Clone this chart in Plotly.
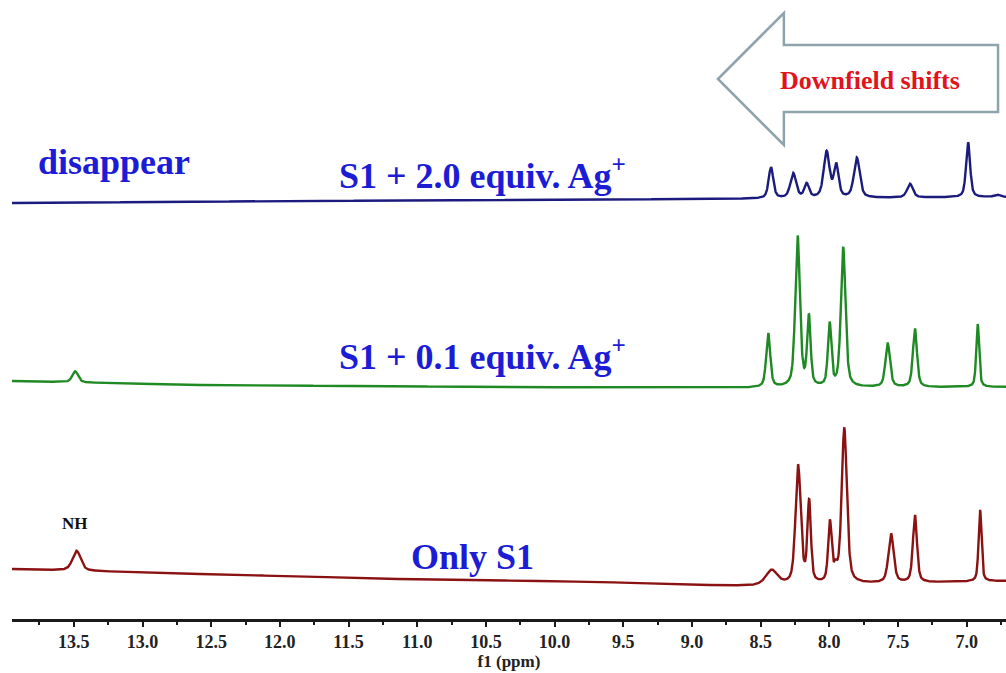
import numpy as np
import plotly.graph_objects as go

# ---------------- data ----------------
tick_vals = [13.5, 13.0, 12.5, 12.0, 11.5, 11.0, 10.5, 10.0, 9.5, 9.0, 8.5, 8.0, 7.5, 7.0]
tick_text = ["13.5", "13.0", "12.5", "12.0", "11.5", "11.0", "10.5", "10.0",
             "9.5", "9.0", "8.5", "8.0", "7.5", "7.0"]

# S1 + 2.0 equiv. Ag+ (top, blue)
blue_pos = [8.425, 8.263, 8.165, 8.02, 7.95, 7.80, 7.413, 6.99, 6.78]
blue_h   = [31.5, 25.5, 15.5, 47.5, 35.5, 40.5, 14.0, 55.0, 2.5]
blue_w   = [0.040, 0.050, 0.040, 0.050, 0.040, 0.050, 0.050, 0.035, 0.050]
blue_base_ppm = [13.95, 11.855, 8.94, 6.71]
blue_base_val = [416, 418, 420, 422]

# S1 + 0.1 equiv. Ag+ (middle, green)
green_pos = [13.49, 8.445, 8.231, 8.149, 7.998, 7.899, 7.575, 7.377, 6.92]
green_h   = [11.0, 55.0, 152.5, 74.0, 66.0, 140.0, 44.0, 59.0, 63.0]
green_w   = [0.050, 0.035, 0.040, 0.030, 0.030, 0.040, 0.040, 0.035, 0.025]
green_base_ppm = [13.95, 12.58, 10.40, 8.94, 6.71]
green_base_val = [238, 234, 232, 231, 232]

# Only S1 (bottom, dark red)
red_pos = [13.48, 8.42, 8.227, 8.147, 7.996, 7.955, 7.891, 7.551, 7.377, 6.903]
red_h   = [20.0, 16.0, 120.0, 86.0, 65.0, 25.0, 156.0, 50.0, 68.0, 72.0]
red_w   = [0.070, 0.100, 0.045, 0.030, 0.030, 0.030, 0.045, 0.045, 0.035, 0.025]
red_base_ppm = [13.95, 12.58, 11.13, 9.67, 8.94, 8.58, 6.71]
red_base_val = [50, 45, 40, 37, 34, 33, 38]

X_RANGE = [13.95, 6.714]
Y_RANGE = [0, 619]

# ---------------- line shapes ----------------
ppm = np.arange(13.95, 6.70, -0.002)


def shape(x, c, w):
    g = np.exp(-4 * np.log(2) * ((x - c) / w) ** 2)
    l = 1.0 / (1.0 + (2 * (x - c) / w) ** 2)
    return 0.5 * g + 0.5 * l


def spectrum(pos, h, w, bppm, bval):
    pos = np.asarray(pos); h = np.asarray(h); w = np.asarray(w)
    M = np.array([[shape(pi, pj, wj) for pj, wj in zip(pos, w)] for pi in pos])
    amp = np.linalg.solve(M, h)
    y = np.interp(ppm, bppm[::-1], bval[::-1])
    for a, c, ww in zip(amp, pos, w):
        y = y + a * shape(ppm, c, ww)
    return y


y_blue = spectrum(blue_pos, blue_h, blue_w, blue_base_ppm, blue_base_val)
y_green = spectrum(green_pos, green_h, green_w, green_base_ppm, green_base_val)
y_red = spectrum(red_pos, red_h, red_w, red_base_ppm, red_base_val)

fig = go.Figure()
for y, col, name in [(y_blue, "#1b1b7e", "S1 + 2.0 equiv. Ag+"),
                     (y_green, "#1f8a24", "S1 + 0.1 equiv. Ag+"),
                     (y_red, "#8b1212", "Only S1")]:
    fig.add_trace(go.Scatter(x=ppm, y=y, mode="lines", name=name,
                             line=dict(color=col, width=2.4), hoverinfo="skip"))

SERIF = "Liberation Serif, Times New Roman, serif"
LBL = "#1c1cd6"

annos = [
    dict(text="disappear", x=13.778, y=457, size=36, color=LBL, xanchor="left"),
    dict(text="S1 + 2.0 equiv. Ag<sup>+</sup>", x=11.586, y=446, size=36, color=LBL, xanchor="left"),
    dict(text="S1 + 0.1 equiv. Ag<sup>+</sup>", x=11.586, y=265, size=36, color=LBL, xanchor="left"),
    dict(text="Only S1", x=11.062, y=62, size=36, color=LBL, xanchor="left"),
    dict(text="NH", x=13.495, y=96, size=17, color="#111111", xanchor="center"),
    dict(text="Downfield shifts", x=8.375, y=539, size=26, color="#e0141c", xanchor="left"),
]
for a in annos:
    fig.add_annotation(text=a["text"], x=a["x"], y=a["y"], xref="x", yref="y",
                       xanchor=a["xanchor"], yanchor="middle", showarrow=False,
                       font=dict(family=SERIF, size=a["size"], color=a["color"], weight="bold"))

# hollow block arrow pointing left
arrow_path = "M 8.811,540 L 8.331,606 L 8.331,574 L 6.772,574 L 6.772,507 L 8.331,507 L 8.331,474 Z"
fig.add_shape(type="path", path=arrow_path, xref="x", yref="y",
              line=dict(color="#8ea3ab", width=2.5), fillcolor="white", layer="below")

fig.update_layout(
    width=1006, height=673,
    margin=dict(l=12, r=0, t=0, b=54),
    paper_bgcolor="white", plot_bgcolor="white",
    showlegend=False,
    xaxis=dict(range=X_RANGE, showgrid=False, zeroline=False,
               showline=True, linecolor="#1a1a1a", linewidth=2.5,
               ticks="outside", ticklen=5, tickwidth=2, tickcolor="#1a1a1a",
               tickvals=tick_vals, ticktext=tick_text,
               tickfont=dict(family=SERIF, size=18, color="#222222", weight="bold"),
               minor=dict(dtick=0.25, tick0=0, ticks="outside", ticklen=3, tickwidth=1.5, tickcolor="#1a1a1a"),
               title=dict(text="f1 (ppm)", standoff=0,
                          font=dict(family=SERIF, size=17, color="#222222", weight="bold"))),
    yaxis=dict(range=Y_RANGE, visible=False, fixedrange=True),
)

fig.write_html("out.html")
